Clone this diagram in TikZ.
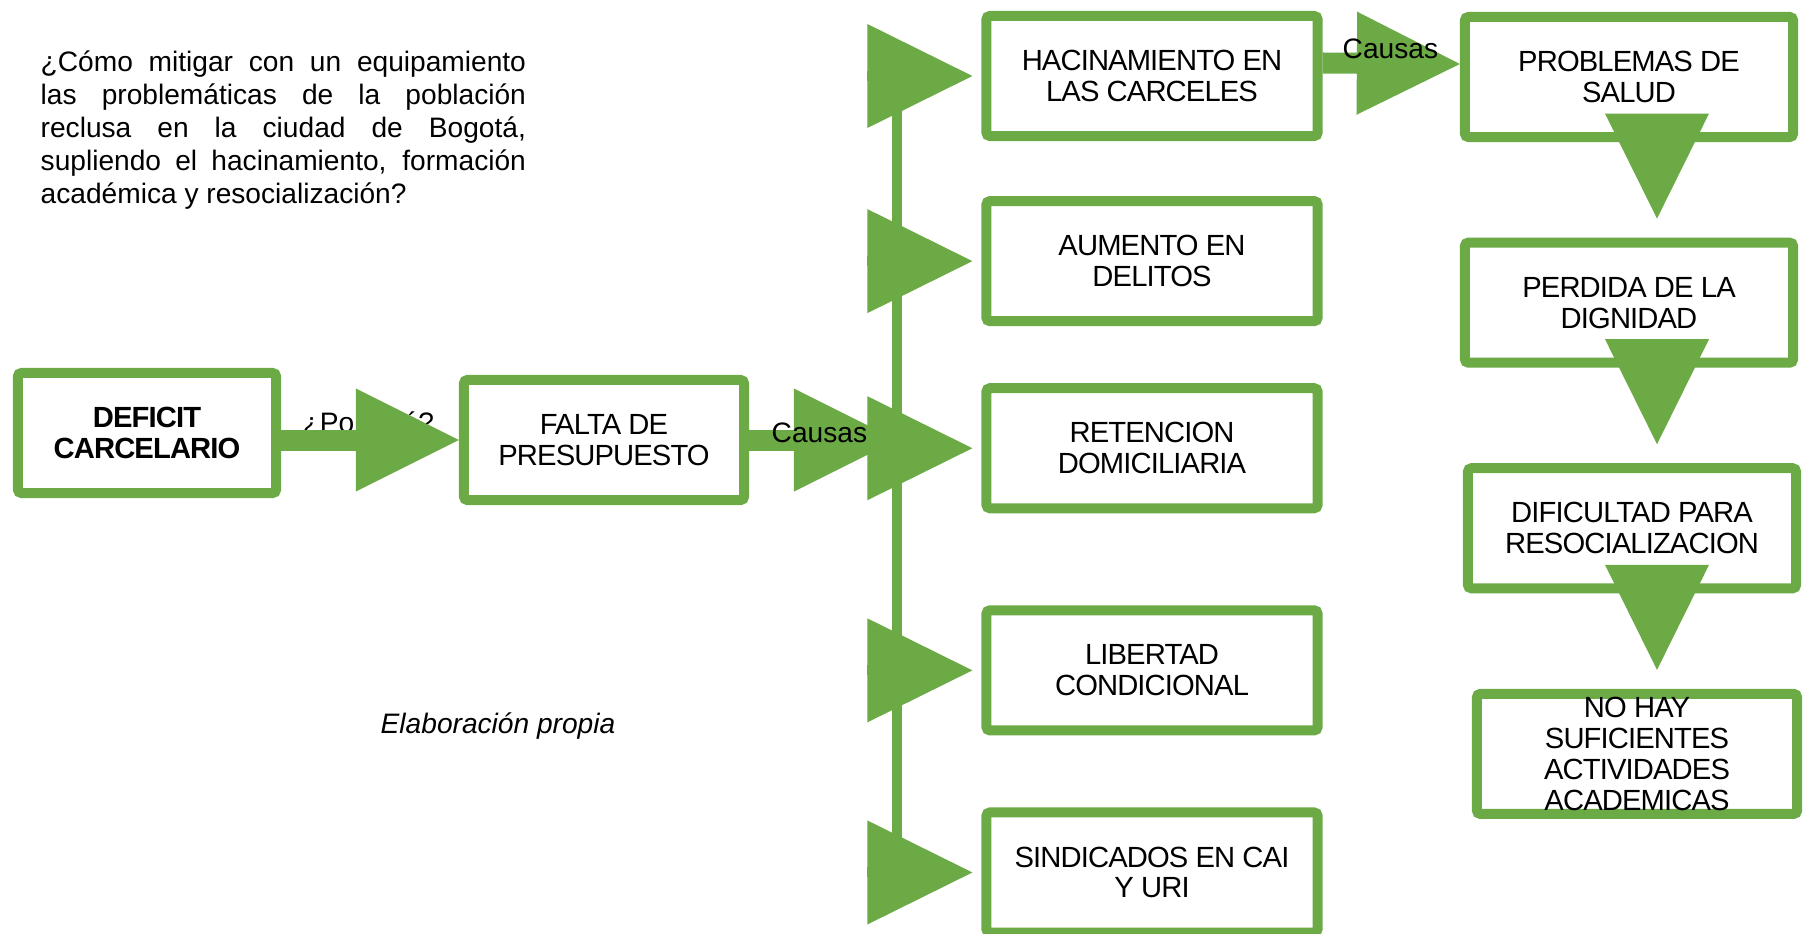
\documentclass[tikz,border=0pt]{standalone}
\usepackage{fontspec}
\setmainfont{Liberation Sans}
\usetikzlibrary{positioning,arrows.meta,calc}
\definecolor{grn}{RGB}{108,170,70}
\newcommand{\boxfont}{\addfontfeatures{LetterSpace=-3}\fontsize{8.3}{8.8}\selectfont}
\newcommand{\lblfont}{\fontsize{8}{9}\selectfont}
\tikzset{
    on grid,
    node distance=2.26cm,
    block/.style = {
        draw=grn,
        shape=rectangle,
        rounded corners=1pt,
        minimum height=1.2cm,
        minimum width=3.31cm,
        line width=0.1cm,
        inner sep=0pt,
        align=center,
        font=\boxfont
    },
    boxtxt/.style = {
        align=center,
        inner sep=0pt,
        font=\boxfont
    },
    lbl/.style = {
        inner sep=0pt,
        font=\lblfont
    },
    question/.style = {
        inner sep=0pt,
        text width=4.85cm,
        align=justify,
        font=\fontsize{8}{9.4}\selectfont
    },
    fat/.style = {
        draw=grn,
        line width=0.21cm,
        -{Triangle[width=1.03cm,length=1.03cm,line width=0pt]}
    },
    thinhead/.style = {
        draw=grn,
        line width=0.1cm,
        -{Triangle[width=1.04cm,length=1.05cm,line width=0pt]}
    },
    trunkline/.style = {
        draw=grn,
        line width=0.1cm
    },
}

\begin{document}
\begin{tikzpicture}[x=0.01cm, y=-0.01cm]
    \useasboundingbox (0,0) rectangle (1803,933);

    % textos sueltos
    \node[question, anchor=north west] (pregunta) at (40,50) {¿Cómo mitigar con un equipamiento\linebreak las problemáticas de la población\linebreak reclusa en la ciudad de Bogotá,\linebreak supliendo el hacinamiento, formación\linebreak académica y resocialización?};
    \node[lbl, anchor=base west] (porque) at (302,432) {¿Por qué?};
    \node[lbl, font=\lblfont\itshape, anchor=base west] (fuente) at (380,733) {Elaboración propia};

    % problema y causa
    \node[block, minimum width=2.58cm, font=\boxfont\bfseries] (deficit) at (147,433) {DEFICIT\\CARCELARIO};
    \node[block, minimum width=2.8cm] (falta) at (604,440) {FALTA DE\\PRESUPUESTO};

    % causas
    \node[block] (hacin) at (1152,76) {HACINAMIENTO EN\\LAS CARCELES};
    \node[block, below of=hacin, node distance=1.85cm] (aumento) {AUMENTO EN\\DELITOS};
    \node[block, below of=aumento, node distance=1.87cm] (retencion) {RETENCION\\DOMICILIARIA};
    \node[block, below of=retencion, node distance=2.22cm] (libertad) {LIBERTAD\\CONDICIONAL};
    \node[block, below of=libertad, node distance=2.02cm] (sindic) {SINDICADOS EN CAI\\Y URI};

    % consecuencias
    \node[block, minimum width=3.28cm] (problemas) at (1629,77) {PROBLEMAS DE\\SALUD};
    \node[block, minimum width=3.28cm, below of=problemas, node distance=2.255cm] (perdida) {PERDIDA DE LA\\DIGNIDAD};
    \node[block, minimum width=3.28cm, below of=perdida, node distance=2.255cm, xshift=0.03cm] (dificultad) {DIFICULTAD PARA\\RESOCIALIZACION};
    \node[block, minimum width=3.2cm, below of=dificultad, node distance=2.255cm, xshift=0.05cm,
        label={[boxtxt]center:{NO HAY\\SUFICIENTES\\ACTIVIDADES\\ACADEMICAS}}] (noacad) {};

    \coordinate (trunk) at (897,0);
    \coordinate (rcol) at (1657,0);

    \path[fat] (deficit.east |- falta.west) -- (falta.west);
    \path[fat] (falta.east) -- (trunk |- falta.east);
    \path[trunkline] (trunk |- hacin.west) -- (trunk |- sindic.west);
    \foreach \c in {hacin,aumento,retencion,libertad,sindic}
        \path[thinhead, shorten >=0.09cm] (trunk |- \c.west) -- (\c.west);
    \path[fat] ([yshift=0.13cm]hacin.east) -- ([yshift=0.13cm]problemas.west);
    \path[thinhead, shorten >=0.19cm] (rcol |- problemas.south) -- (rcol |- perdida.north);
    \path[thinhead, shorten >=0.19cm] (rcol |- perdida.south) -- (rcol |- dificultad.north);
    \path[thinhead, shorten >=0.19cm] (rcol |- dificultad.south) -- (rcol |- noacad.north);

    \node[lbl, anchor=base west] (causa1) at (771,442) {Causas};
    \node[lbl, anchor=base west] (causa2) at (1342,58) {Causas};
\end{tikzpicture}
\end{document}
